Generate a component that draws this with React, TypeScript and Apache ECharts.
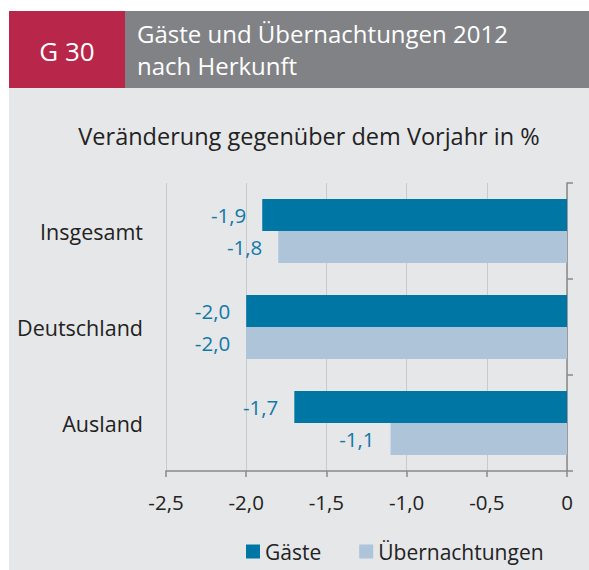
import React, { useEffect, useRef } from "react";
import * as echarts from "echarts";

const categories = ["Insgesamt", "Deutschland", "Ausland"];
const gaeste = [-1.9, -2.0, -1.7];
const uebernachtungen = [-1.8, -2.0, -1.1];
const seriesNames = ["Gäste", "Übernachtungen"];
const headerCode = "G 30";
const headerTitle = ["Gäste und Übernachtungen 2012", "nach Herkunft"];
const subTitle = "Veränderung gegenüber dem Vorjahr in %";

const FONT = "'Open Sans', 'Noto Sans', sans-serif";
const fmt = (v: number) => (v === 0 ? "0" : v.toFixed(1).replace(".", ","));

export default function App() {
  const ref = useRef<HTMLDivElement>(null);
  useEffect(() => {
    if (!ref.current) return;
    const chart = echarts.init(ref.current, undefined, { renderer: "svg" });
    chart.setOption({
      animation: false,
      textStyle: { fontFamily: FONT },
      graphic: [
        { type: "rect", z: -10, shape: { x: 9, y: 88, width: 580, height: 482 }, style: { fill: "#e6e7e9" } },
        { type: "rect", shape: { x: 9, y: 11, width: 116, height: 77 }, style: { fill: "#b8264a" } },
        { type: "rect", shape: { x: 125, y: 11, width: 464, height: 77 }, style: { fill: "#808285" } },
        {
          type: "text", x: 67, y: 51,
          style: { text: headerCode, fill: "#fff", font: `26px ${FONT}`, textAlign: "center", textVerticalAlign: "middle" },
        },
        {
          type: "text", x: 137, y: 33,
          style: { text: headerTitle[0], fill: "#fff", font: `24px ${FONT}`, textAlign: "left", textVerticalAlign: "middle" },
        },
        {
          type: "text", x: 137, y: 65,
          style: { text: headerTitle[1], fill: "#fff", font: `24px ${FONT}`, textAlign: "left", textVerticalAlign: "middle" },
        },
        {
          type: "text", x: 309, y: 136,
          style: { text: subTitle, fill: "#222", font: `23.5px ${FONT}`, textAlign: "center", textVerticalAlign: "middle" },
        },
      ],
      legend: {
        left: 241,
        top: 536,
        icon: "rect",
        itemWidth: 14,
        itemHeight: 14,
        itemGap: 38,
        textStyle: { fontSize: 21, color: "#222", fontFamily: FONT, padding: [0, 0, 0, 0] },
        data: seriesNames,
      },
      grid: { left: 166, right: 22, top: 183, bottom: 99, containLabel: false },
      xAxis: {
        type: "value",
        min: -2.5,
        max: 0,
        interval: 0.5,
        axisLine: { show: true, lineStyle: { color: "#8a8a8a", width: 1.5 } },
        axisTick: { show: true, length: 6, lineStyle: { color: "#8a8a8a", width: 1.5 } },
        splitLine: { show: true, lineStyle: { color: "#c9cacc", width: 1 } },
        axisLabel: { formatter: fmt, fontSize: 20.5, color: "#222", margin: 20, fontFamily: FONT },
      },
      yAxis: [
        {
          type: "category",
          data: categories,
          inverse: true,
          position: "left",
          axisLine: { show: false },
          axisTick: { show: false },
          axisLabel: { fontSize: 21.5, color: "#222", margin: 23, fontFamily: FONT },
        },
        {
          type: "category",
          data: categories,
          inverse: true,
          position: "right",
          axisLine: { show: true, lineStyle: { color: "#8a8a8a", width: 1.5 } },
          axisTick: { show: true, length: 6, lineStyle: { color: "#8a8a8a", width: 1.5 } },
          axisLabel: { show: false },
        },
      ],
      series: [
        {
          name: seriesNames[0],
          type: "bar",
          yAxisIndex: 0,
          data: gaeste,
          barGap: "0%",
          barCategoryGap: "33.3%",
          itemStyle: { color: "#0076a5" },
          label: { show: true, position: "left", distance: 16, formatter: (p: any) => fmt(p.value), fontSize: 20.5, color: "#1279a8", fontFamily: FONT },
        },
        {
          name: seriesNames[1],
          type: "bar",
          yAxisIndex: 0,
          data: uebernachtungen,
          itemStyle: { color: "#adc4d9" },
          label: { show: true, position: "left", distance: 16, formatter: (p: any) => fmt(p.value), fontSize: 20.5, color: "#1279a8", fontFamily: FONT },
        },
      ],
    });
    return () => chart.dispose();
  }, []);
  return <div ref={ref} style={{ position: "absolute", left: 0, top: 0, width: 589, height: 570 }} />;
}
